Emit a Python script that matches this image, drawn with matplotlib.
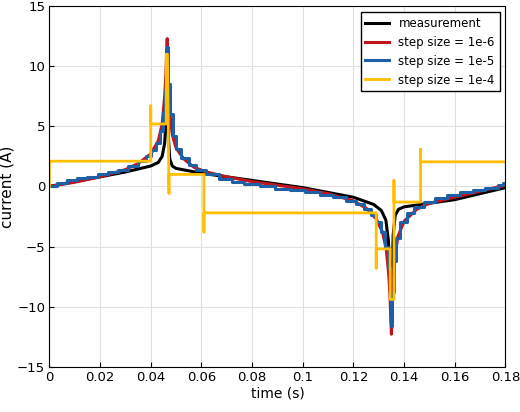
import matplotlib.pyplot as plt
import numpy as np

# measurement
t_meas = [0, 0.01, 0.02, 0.03, 0.04, 0.043, 0.0445, 0.0455, 0.046, 0.0463, 0.0465, 0.0467, 0.047,
          0.0475, 0.0485, 0.05, 0.055, 0.06, 0.08, 0.1, 0.12, 0.128, 0.131, 0.1328, 0.1338, 0.1345,
          0.135, 0.1353, 0.1357, 0.1365, 0.1378, 0.14, 0.15, 0.16, 0.18]
i_meas = [0, 0.4, 0.8, 1.2, 1.7, 2.0, 2.5, 3.6, 5.5, 8.0, 11.5, 8.0, 4.0,
          2.3, 1.7, 1.5, 1.3, 1.1, 0.5, -0.1, -0.9, -1.5, -2.0, -2.8, -4.5, -7.5,
          -11.5, -7.5, -4.0, -2.4, -1.9, -1.7, -1.4, -1.1, -0.1]

# step size 1e-6 (smooth)
t_fine = [0, 0.01, 0.02, 0.03, 0.035, 0.04, 0.043, 0.0445, 0.0455, 0.046, 0.0465, 0.0469, 0.0475,
          0.0485, 0.05, 0.053, 0.057, 0.062, 0.07, 0.08, 0.09, 0.1, 0.11, 0.12, 0.125, 0.129, 0.1315,
          0.133, 0.134, 0.1345, 0.135, 0.1355, 0.1362, 0.1375, 0.14, 0.145, 0.15, 0.16, 0.17, 0.18]
i_fine = [0, 0.35, 0.8, 1.4, 1.9, 2.7, 3.8, 5.2, 7.5, 9.5, 12.3, 9.0, 6.2,
          4.3, 3.2, 2.3, 1.6, 1.2, 0.8, 0.4, 0.1, -0.2, -0.6, -1.2, -1.8, -2.7, -3.8,
          -5.3, -7.5, -9.5, -12.3, -9.0, -6.2, -4.2, -2.9, -1.9, -1.4, -0.9, -0.4, 0.1]

# step size 1e-5 (staircase)
t_mid = [0, 0.003, 0.007, 0.011, 0.015, 0.019, 0.023, 0.027, 0.031, 0.035, 0.038, 0.040, 0.042, 0.0435,
         0.0448, 0.0457, 0.0462, 0.0466, 0.047, 0.0476, 0.0486, 0.050, 0.052, 0.055, 0.058, 0.062,
         0.067, 0.072, 0.077, 0.083, 0.089, 0.095, 0.101, 0.107, 0.112, 0.117, 0.121, 0.124, 0.127,
         0.129, 0.131, 0.1325, 0.1337, 0.1345, 0.135, 0.1354, 0.136, 0.137, 0.1385, 0.141, 0.144,
         0.148, 0.152, 0.157, 0.162, 0.167, 0.172, 0.177, 0.179, 0.18]
i_mid = [0, 0.3, 0.5, 0.7, 0.8, 1.0, 1.2, 1.4, 1.7, 2.1, 2.5, 3.0, 3.6, 4.6,
         6.2, 8.0, 9.8, 11.6, 8.5, 6.0, 4.2, 3.1, 2.4, 1.8, 1.4, 1.0,
         0.6, 0.4, 0.2, 0.0, -0.2, -0.3, -0.5, -0.7, -0.9, -1.2, -1.5, -1.9, -2.4,
         -3.0, -3.8, -5.0, -6.8, -9.0, -11.6, -8.8, -6.2, -4.3, -3.0, -2.2, -1.7,
         -1.3, -1.0, -0.7, -0.5, -0.3, -0.1, 0.1, 0.3, 0.3]

# step size 1e-4 (coarse, with overshoot spikes)
t_coarse = [0, 0, 0.040, 0.040, 0.040, 0.0461, 0.0461, 0.0466, 0.0472, 0.0472, 0.061, 0.061, 0.061,
            0.129, 0.129, 0.129, 0.1345, 0.1345, 0.136, 0.136, 0.136, 0.1465, 0.1465, 0.1465, 0.18]
i_coarse = [0, 2.1, 2.1, 6.7, 5.2, 5.2, 11.0, 11.0, -0.6, 1.0, 1.0, -3.8, -2.2,
            -2.2, -6.8, -5.2, -5.2, -9.4, -9.4, 0.5, -1.3, -1.3, 3.1, 2.05, 2.05]

fig, ax = plt.subplots(figsize=(5.2, 4.12), dpi=100)
ax.plot(t_meas, i_meas, color='black', lw=2.2, label='measurement')
ax.plot(t_fine, i_fine, color='#c0141e', lw=2.2, label='step size = 1e-6')
ax.plot(t_mid, i_mid, color='#1f5fa6', lw=2.2, drawstyle='steps-post', label='step size = 1e-5')
ax.plot(t_coarse, i_coarse, color='#ffbf00', lw=2.0, label='step size = 1e-4')

ax.set_xlim(0, 0.18)
ax.set_ylim(-15, 15)
ax.set_xticks(np.arange(0, 0.181, 0.02))
ax.set_xticklabels(['0', '0.02', '0.04', '0.06', '0.08', '0.1', '0.12', '0.14', '0.16', '0.18'])
ax.set_yticks([-15, -10, -5, 0, 5, 10, 15])
ax.set_yticklabels(['\u221215', '\u221210', '\u22125', '0', '5', '10', '15'])
ax.grid(True, color='#e0e0e0', lw=0.8)
ax.set_axisbelow(True)
ax.tick_params(labelsize=9.5, direction='in', pad=3)
ax.set_xlabel('time (s)', fontsize=10, labelpad=2)
ax.set_ylabel('current (A)', fontsize=11, labelpad=2)
ax.legend(loc='upper right', fontsize=8.5, framealpha=1, edgecolor='black', fancybox=False)
fig.subplots_adjust(left=0.095, right=0.972, top=0.985, bottom=0.11)
fig.savefig('out.png')
